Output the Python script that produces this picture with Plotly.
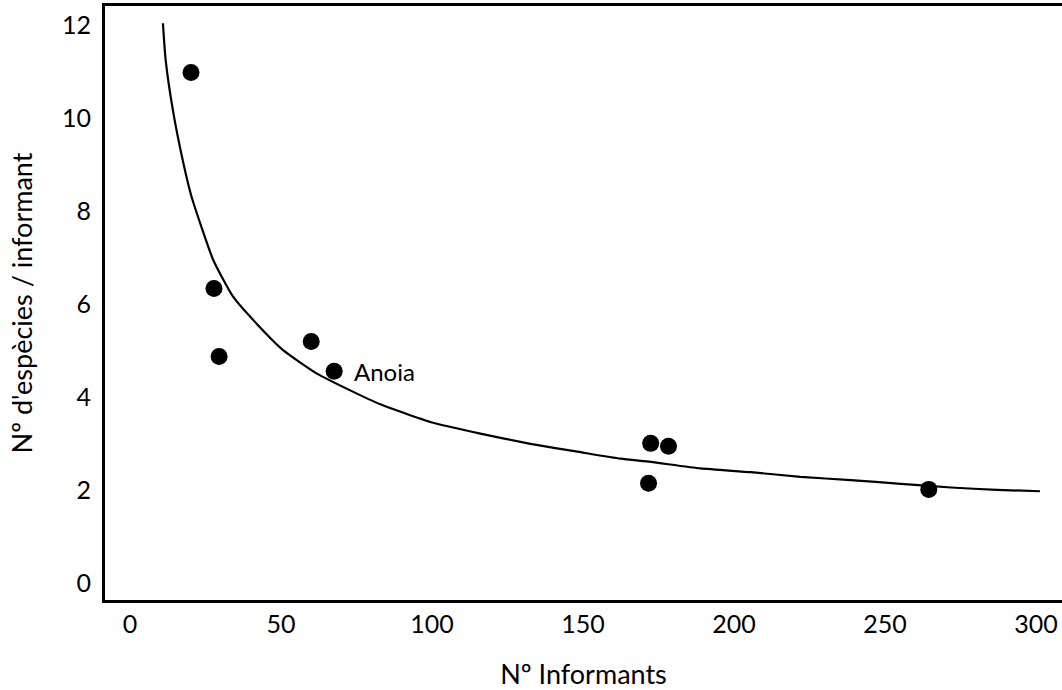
import plotly.graph_objects as go

# Observed data points (Nº informants, Nº species / informant)
informants = [20.2, 27.8, 29.5, 60.0, 67.6, 172.4, 178.3, 171.7, 264.5]
species_per_informant = [10.99, 6.34, 4.88, 5.20, 4.56, 3.01, 2.95, 2.15, 2.02]

# Trend curve
curve_x = [10.9, 11.8, 14.2, 17.7, 20.4, 27.6, 34.2, 42.0, 50.8, 61.9, 72.9, 82.9,
           99.4, 116.0, 132.6, 149.2, 162.4, 172.4, 188.9, 205.5, 222.0, 238.6,
           255.2, 271.8, 287.0, 301.3]
curve_y = [12.05, 11.26, 10.18, 9.03, 8.31, 6.95, 6.16, 5.58, 5.01, 4.51, 4.15, 3.85,
           3.47, 3.22, 3.00, 2.82, 2.68, 2.61, 2.47, 2.39, 2.29, 2.22,
           2.14, 2.06, 2.01, 1.98]

label_text = "Anoia"
label_x = 67.6
label_y = 4.56

x_ticks = [0, 50, 100, 150, 200, 250, 300]
y_ticks = [0, 2, 4, 6, 8, 10, 12]

FONT = "Lato"

fig = go.Figure()
fig.add_trace(go.Scatter(
    x=curve_x, y=curve_y, mode="lines",
    line=dict(color="black", width=2.2, shape="spline", smoothing=0.5),
    showlegend=False, hoverinfo="skip"))
fig.add_trace(go.Scatter(
    x=informants, y=species_per_informant, mode="markers",
    marker=dict(color="black", size=17),
    showlegend=False))

fig.add_annotation(x=label_x, y=label_y, text=label_text, showarrow=False,
                   xanchor="left", yanchor="middle", xshift=18,
                   font=dict(family=FONT, size=24, color="black"))

fig.update_layout(
    width=1062, height=690,
    margin=dict(l=105, r=0, t=6, b=90),
    paper_bgcolor="white", plot_bgcolor="white",
    font=dict(family=FONT, size=25, color="black"),
    xaxis=dict(range=[-8.28, 308.6], tickvals=x_ticks, showgrid=False,
               zeroline=False, showline=True, linecolor="black", linewidth=3,
               mirror=True, ticks="", ticklabelstandoff=0,
               title=dict(text="Nº Informants", font=dict(family=FONT, size=27),
                          standoff=34)),
    yaxis=dict(range=[-0.36, 12.42], tickvals=y_ticks, showgrid=False,
               zeroline=False, showline=True, linecolor="black", linewidth=3,
               mirror=False, ticks="", ticklabelstandoff=6,
               title=dict(text="Nº d'espècies / informant",
                          font=dict(family=FONT, size=27), standoff=22)),
)

fig.write_html("out.html")
